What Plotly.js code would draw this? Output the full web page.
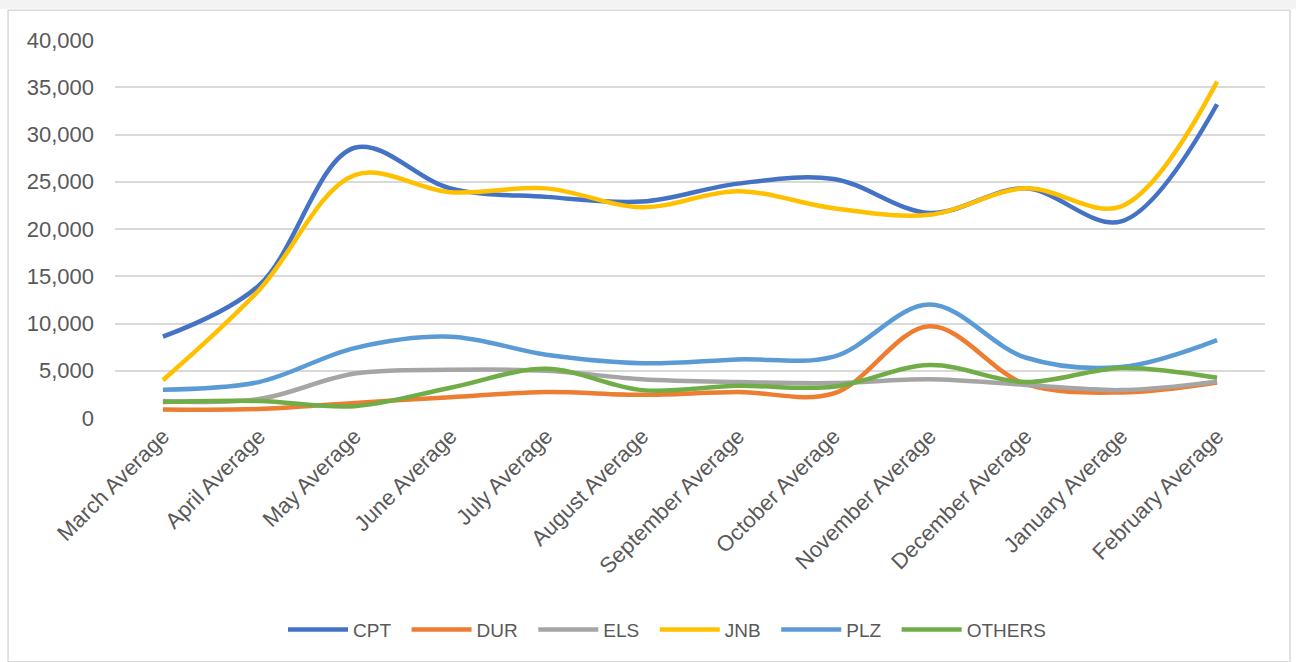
<!DOCTYPE html>
<html>
<head>
<meta charset="utf-8">
<script src="https://cdn.plot.ly/plotly-3.0.1.min.js"></script>
<style>html,body{margin:0;padding:0;background:#fff;}#chart{width:1296px;height:662px;}</style>
</head>
<body>
<div id="chart"></div>
<script>
const categories = ["March Average","April Average","May Average","June Average","July Average","August Average","September Average","October Average","November Average","December Average","January Average","February Average"];
const seriesNames = ["CPT","DUR","ELS","JNB","PLZ","OTHERS"];
const CPT    = [8600, 14000, 28600, 24300, 23400, 22900, 24800, 25300, 21700, 24300, 20800, 33200];
const DUR    = [900, 950, 1600, 2200, 2750, 2450, 2750, 2600, 9700, 3600, 2700, 3750];
const ELS    = [1800, 2000, 4700, 5100, 5000, 4100, 3800, 3700, 4100, 3500, 2950, 3850];
const JNB    = [4000, 13500, 25700, 23900, 24300, 22300, 24000, 22200, 21500, 24300, 22400, 35600];
const PLZ    = [3000, 3800, 7400, 8600, 6700, 5800, 6200, 6500, 12000, 6400, 5400, 8250];
const OTHERS = [1700, 1800, 1250, 3200, 5200, 2950, 3400, 3300, 5600, 3800, 5300, 4250];
const yTicks = [0, 5000, 10000, 15000, 20000, 25000, 30000, 35000, 40000];
const colors = ["#4472C4","#ED7D31","#A5A5A5","#FFC000","#5B9BD5","#70AD47"];

const allSeries = [CPT, DUR, ELS, JNB, PLZ, OTHERS];
const pad = "\u00a0\u00a0";
const traces = allSeries.map((vals, i) => ({
  x: categories,
  y: vals,
  name: i < allSeries.length - 1 ? seriesNames[i] + pad : seriesNames[i],
  type: "scatter",
  mode: "lines",
  line: {color: colors[i], width: 4.5, shape: "spline", smoothing: 1},
  hovertemplate: seriesNames[i] + ": %{y:,}<extra></extra>"
}));

const fontFam = "Liberation Sans, Arial, sans-serif";
const layout = {
  width: 1296, height: 662,
  margin: {l: 115, r: 31, t: 40, b: 244},
  paper_bgcolor: "#ffffff",
  plot_bgcolor: "#ffffff",
  showlegend: true,
  legend: {
    orientation: "h", x: 0.48, xanchor: "center", y: -0.56, yanchor: "middle",
    font: {family: fontFam, size: 19, color: "#595959"},
    itemwidth: 60, tracegroupgap: 0
  },
  xaxis: {
    type: "category",
    range: [-0.5, 11.5],
    tickangle: -45,
    showgrid: false,
    showline: false,
    ticks: "",
    tickfont: {family: fontFam, size: 22, color: "#595959"},
    fixedrange: true
  },
  yaxis: {
    range: [0, 40000],
    tickvals: yTicks,
    tickformat: ",d",
    showgrid: true,
    gridcolor: "#d9d9d9",
    gridwidth: 1.5,
    zeroline: false,
    showline: false,
    ticks: "",
    ticklabelstandoff: 20,
    tickfont: {family: fontFam, size: 22, color: "#595959"},
    fixedrange: true
  },
  shapes: [
    {type: "rect", xref: "paper", yref: "paper", x0: -0.1, x1: 1.03, y0: 1.083, y1: 1.11,
     fillcolor: "#f3f3f3", line: {width: 0}, layer: "below"},
    {type: "rect", xref: "paper", yref: "paper", x0: -0.093, x1: 1.0217, y0: -0.645, y1: 1.079,
     fillcolor: "rgba(0,0,0,0)", line: {color: "#d9d9d9", width: 1.5}, layer: "below"}
  ]
};

Plotly.newPlot("chart", traces, layout, {displayModeBar: false, staticPlot: false});
</script>
</body>
</html>
